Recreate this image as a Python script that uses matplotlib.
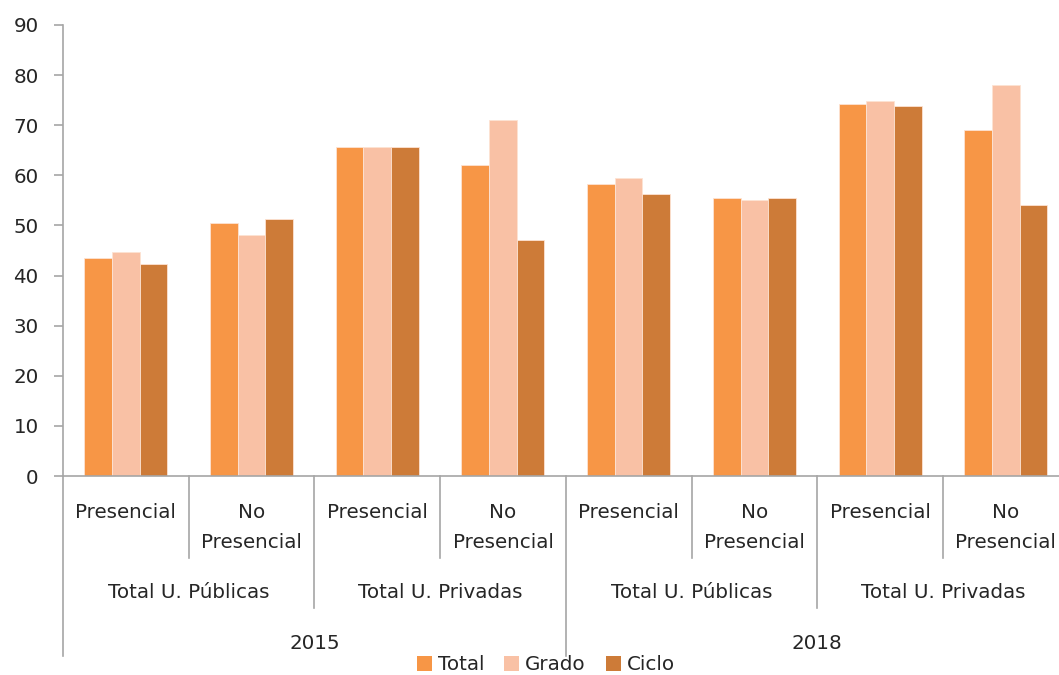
import matplotlib
matplotlib.use("Agg")
import matplotlib.pyplot as plt
import matplotlib.transforms as mtransforms
from matplotlib.lines import Line2D
import numpy as np

plt.rcParams['font.family'] = ['DejaVu Sans']

# ---- data ----
modalidades = ["Presencial", "No\nPresencial", "Presencial", "No\nPresencial",
               "Presencial", "No\nPresencial", "Presencial", "No\nPresencial"]
universidades = ["Total U. Públicas", "Total U. Privadas", "Total U. Públicas", "Total U. Privadas"]
years = ["2015", "2018"]
series_names = ["Total", "Grado", "Ciclo"]
total = [43.5, 50.5, 65.7, 62.1, 58.3, 55.5, 74.3, 69.1]
grado = [44.7, 48.1, 65.7, 71.1, 59.5, 55.1, 74.9, 78.0]
ciclo = [42.3, 51.3, 65.7, 47.1, 56.3, 55.5, 73.9, 54.1]
colors = ["#F79646", "#F9C1A5", "#CD7B38"]
yticks = list(range(0, 100, 10))

W, H = 1059, 675
fig = plt.figure(figsize=(W / 100, H / 100), dpi=100)

def fx(px):
    return px / W

def fy(py):
    return 1 - py / H

FS = 14.3
ax_left, ax_top, ax_bottom = 63, 25, 476
group_w = 125.7
ax = fig.add_axes([fx(ax_left), fy(ax_bottom), fx(8 * group_w), (ax_bottom - ax_top) / H])

x = np.arange(len(total))
bw = 0.22
for k, (vals, c, name) in enumerate(zip([total, grado, ciclo], colors, series_names)):
    ax.bar(x + (k - 1) * bw, vals, width=bw, color=c, edgecolor="#FDE3D3",
           linewidth=0.6, label=name)

ax.set_xlim(-0.5, len(total) - 0.5)
ax.set_ylim(0, 90)
ax.set_yticks(yticks)
ax.set_xticks([])
axis_col = "#A6A6A6"
for s in ["top", "right"]:
    ax.spines[s].set_visible(False)
for s in ["left", "bottom"]:
    ax.spines[s].set_color(axis_col)
    ax.spines[s].set_linewidth(1.2)
ax.tick_params(axis="y", length=6.5, width=1.2, color=axis_col, labelsize=FS,
               labelcolor="#262626", pad=11)

# ---- hierarchical category axis ----
trans = mtransforms.blended_transform_factory(ax.transData, fig.transFigure)
txt_col = "#262626"

def vline(xd, y0, y1):
    ax.add_line(Line2D([xd, xd], [fy(y0), fy(y1)], transform=trans,
                       color=axis_col, lw=1.2, clip_on=False))

# level 1 (each line placed on its own baseline)
for i, lab in enumerate(modalidades):
    for k, line in enumerate(lab.split("\n")):
        ax.text(i, fy(518 + 30.5 * k), line, transform=trans, ha="center", va="baseline",
                fontsize=FS, color=txt_col)
for xd in [0.5, 2.5, 4.5, 6.5]:
    vline(xd, ax_bottom, 558)
# level 2
for j, lab in enumerate(universidades):
    ax.text(2 * j + 0.5, fy(598), lab, transform=trans, ha="center", va="baseline",
            fontsize=FS, color=txt_col)
for xd in [1.5, 5.5]:
    vline(xd, ax_bottom, 608)
# level 3
for j, lab in enumerate(years):
    ax.text(4 * j + 1.5, fy(649), lab, transform=trans, ha="center", va="baseline",
            fontsize=FS, color=txt_col)
for xd in [-0.5, 3.5]:
    vline(xd, ax_bottom, 656)

# partially visible title at very top
fig.text(fx(355), fy(-6), "y (%)", ha="left", va="baseline", fontsize=13, color=txt_col)

# legend
leg = fig.legend(loc="center", bbox_to_anchor=(fx(546), fy(665)), ncol=3, frameon=False,
                 fontsize=FS, handlelength=0.75, handleheight=0.75, handletextpad=0.3,
                 columnspacing=1.0, labelcolor=txt_col, borderpad=0)
for h in leg.legend_handles:
    h.set_edgecolor("none")

fig.savefig("out.png", dpi=100)
